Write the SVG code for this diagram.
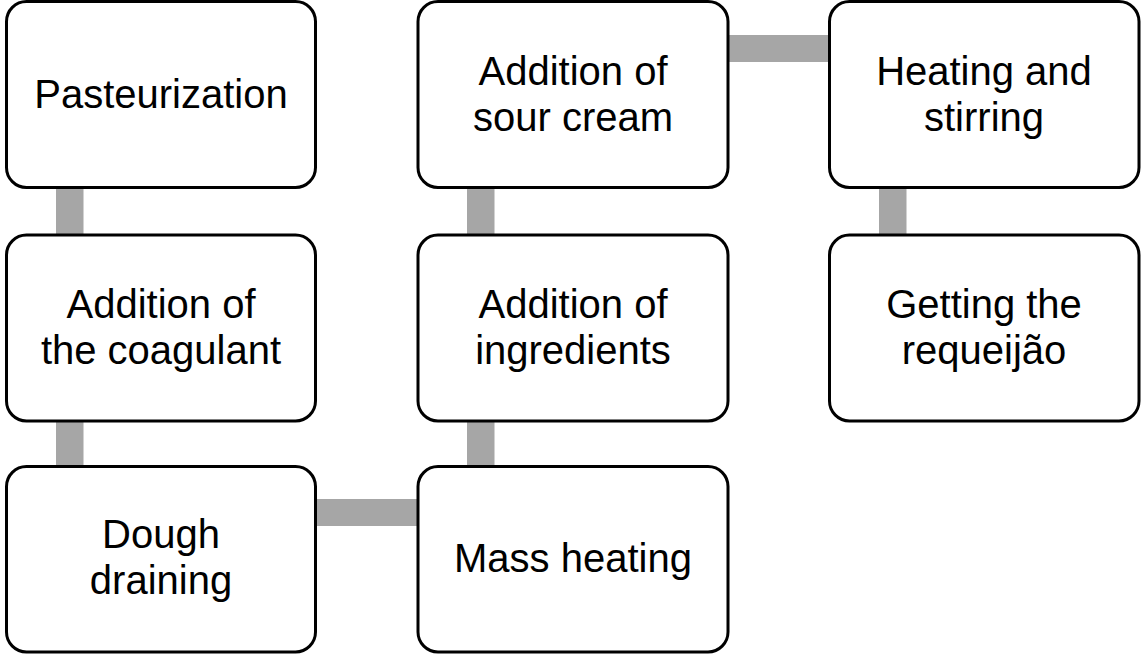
<svg xmlns="http://www.w3.org/2000/svg" width="1141" height="655" viewBox="0 0 1141 655">
<style>
.box{fill:#fff;stroke:#000;stroke-width:3}
.conn{fill:#a6a6a6;stroke:none}
text{font-family:"Liberation Sans",Arial,sans-serif;font-size:40px;fill:#000;text-anchor:middle}
</style>
<rect width="1141" height="655" fill="#fff"/>
<g id="connectors">
<rect class="conn" x="56" y="187" width="27.5" height="49"/>
<rect class="conn" x="56" y="420" width="27.5" height="47"/>
<rect class="conn" x="315" y="499" width="103" height="27"/>
<rect class="conn" x="467" y="420" width="27.5" height="47"/>
<rect class="conn" x="467" y="187" width="27.5" height="49"/>
<rect class="conn" x="728" y="35" width="102" height="27"/>
<rect class="conn" x="879" y="187" width="27.5" height="49"/>
</g>
<g id="n1"><rect class="box" x="6.5" y="1.5" width="309" height="186" rx="20"/><text x="161" y="108">Pasteurization</text></g>
<g id="n2"><rect class="box" x="6.5" y="235" width="309" height="186" rx="20"/><text x="161" y="318">Addition of</text><text x="161" y="364">the coagulant</text></g>
<g id="n3"><rect class="box" x="6.5" y="466.5" width="309" height="185.5" rx="20"/><text x="161" y="548">Dough</text><text x="161" y="594">draining</text></g>
<g id="n4"><rect class="box" x="418" y="466.5" width="310" height="185.5" rx="20"/><text x="573" y="572">Mass heating</text></g>
<g id="n5"><rect class="box" x="418" y="235" width="310" height="186" rx="20"/><text x="573" y="318">Addition of</text><text x="573" y="364">ingredients</text></g>
<g id="n6"><rect class="box" x="418" y="1.5" width="310" height="186" rx="20"/><text x="573" y="85">Addition of</text><text x="573" y="131">sour cream</text></g>
<g id="n7"><rect class="box" x="829.5" y="1.5" width="309.5" height="186" rx="20"/><text x="984" y="85">Heating and</text><text x="984" y="131">stirring</text></g>
<g id="n8"><rect class="box" x="829.5" y="235" width="309.5" height="186" rx="20"/><text x="984" y="318">Getting the</text><text x="984" y="364">requeijão</text></g>
</svg>
